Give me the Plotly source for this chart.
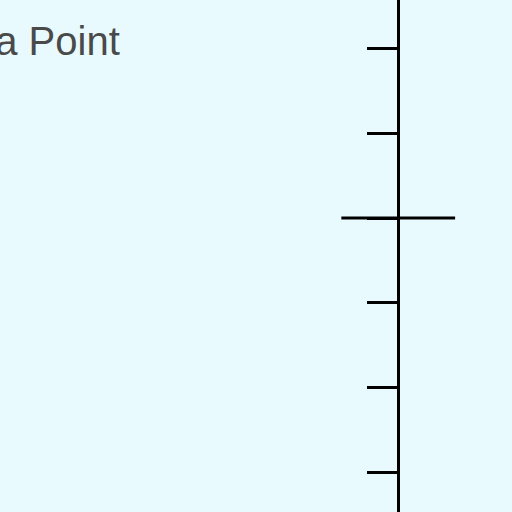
import plotly.graph_objects as go

# data
y_ticks = [-3, -2, -1, 0, 1, 2]
point_x = [0]
point_y = [0]
point_err = [1.0]
label = "Data Point"

fig = go.Figure()
fig.add_trace(go.Scatter(
    x=point_x, y=point_y, mode="markers",
    marker=dict(size=1, color="black", opacity=0),
    error_x=dict(type="data", array=point_err, visible=True, color="black", thickness=3, width=0),
    showlegend=False, hoverinfo="skip",
))
fig.add_annotation(x=-4.86, y=2.09, xref="x", yref="y", text=label, showarrow=False,
                   xanchor="right", yanchor="middle",
                   font=dict(family="Liberation Sans, Arial", size=40, color="#4a4a4a"))

fig.update_layout(
    width=512, height=512, margin=dict(l=0, r=0, t=0, b=0),
    paper_bgcolor="#E8FAFE", plot_bgcolor="#E8FAFE",
    xaxis=dict(range=[-7, 2], visible=False),
    yaxis=dict(range=[-3.468, 2.572], anchor="free", position=398/512, side="left",
               showline=True, linecolor="black", linewidth=3,
               ticks="outside", ticklen=30, tickwidth=3, tickcolor="black",
               tickvals=y_ticks, showticklabels=False, showgrid=False, zeroline=False),
)
fig.write_html("out.html", config={"displayModeBar": False},
               post_script="document.body.style.margin='0';document.body.style.background='#E8FAFE';")
